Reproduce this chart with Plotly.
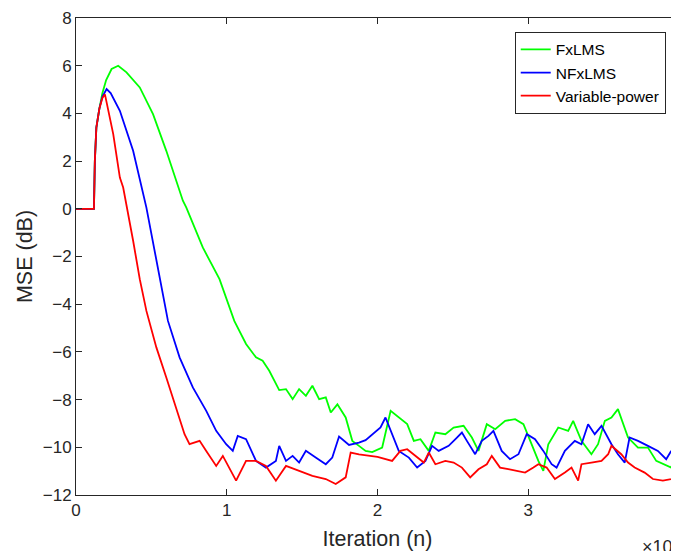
import plotly.graph_objects as go
import numpy as np

# Iteration numbers (plotted in units of 10^3) and MSE in dB
fx_iter = [0, 119, 125, 135, 155, 175, 200, 236, 280, 310, 335, 423, 511, 599, 709, 732, 841, 952,
           1050, 1128, 1172, 1194, 1238, 1282, 1348, 1393, 1437, 1480, 1525, 1568, 1613, 1657, 1690,
           1734, 1789, 1833, 1877, 1921, 1965, 2031, 2087, 2141, 2197, 2241, 2285, 2340, 2384, 2450,
           2505, 2571, 2626, 2670, 2725, 2781, 2847, 2913, 2968, 3022, 3067, 3100, 3133, 3199, 3265,
           3298, 3353, 3419, 3463, 3508, 3552, 3595, 3662, 3728, 3794, 3849, 3904, 3948, 3980, 4000]
fx_mse = [0, 0, 2.0, 3.4, 4.2, 4.85, 5.4, 5.86, 6.0, 5.85, 5.72, 5.09, 3.97, 2.43, 0.34, 0.05, -1.62,
          -2.95, -4.7, -5.67, -6.02, -6.23, -6.37, -6.79, -7.6, -7.56, -7.98, -7.56, -7.84, -7.42,
          -7.98, -7.91, -8.54, -8.2, -8.75, -9.73, -9.94, -10.15, -10.2, -10.01, -8.47, -8.75, -9.03,
          -9.73, -9.66, -10.15, -9.38, -9.45, -9.17, -9.1, -9.59, -10.15, -9.03, -9.24, -8.89, -8.82,
          -9.03, -9.87, -10.57, -10.99, -9.87, -9.17, -9.31, -8.89, -9.73, -10.29, -9.87, -8.89,
          -8.75, -8.4, -9.59, -10.01, -10.01, -10.57, -10.71, -10.85, -10.29, -10.4]

nfx_iter = [0, 119, 125, 135, 155, 175, 203, 230, 291, 379, 467, 555, 610, 687, 775, 864, 930, 996,
            1040, 1073, 1128, 1194, 1260, 1326, 1348, 1393, 1437, 1480, 1525, 1590, 1657, 1700, 1745,
            1811, 1877, 1921, 1965, 2020, 2053, 2097, 2141, 2208, 2263, 2318, 2362, 2406, 2472, 2527,
            2560, 2593, 2648, 2692, 2736, 2769, 2824, 2879, 2935, 2990, 3045, 3100, 3155, 3188, 3243,
            3309, 3353, 3397, 3441, 3486, 3552, 3595, 3640, 3672, 3728, 3794, 3860, 3915, 3948, 3980,
            4000]
nfx_mse = [0, 0, 2.0, 3.4, 4.2, 4.7, 5.02, 4.85, 4.11, 2.43, 0.05, -2.95, -4.7, -6.23, -7.49, -8.47,
           -9.31, -9.87, -10.15, -9.52, -9.66, -10.57, -10.85, -10.57, -9.94, -10.57, -10.36, -10.64,
           -10.15, -10.43, -10.71, -10.43, -9.55, -9.9, -9.8, -9.7, -9.45, -9.17, -8.75, -9.45,
           -10.15, -10.43, -10.85, -10.57, -9.94, -10.15, -9.94, -9.59, -9.38, -9.73, -10.29, -9.73,
           -9.52, -9.31, -10.15, -10.5, -10.29, -9.45, -9.66, -10.15, -10.71, -10.85, -10.15, -9.73,
           -9.87, -9.03, -9.45, -9.1, -9.87, -10.29, -10.64, -9.59, -9.73, -9.94, -10.15, -10.5,
           -10.15, -10.64, -10.5]

vp_iter = [0, 119, 125, 135, 155, 175, 192, 247, 291, 313, 379, 423, 467, 533, 599, 665, 720, 753,
           820, 864, 930, 974, 1018, 1062, 1128, 1194, 1260, 1326, 1393, 1480, 1568, 1657, 1723, 1789,
           1822, 1877, 1943, 2000, 2097, 2152, 2197, 2252, 2307, 2340, 2384, 2450, 2505, 2560, 2615,
           2670, 2725, 2758, 2813, 2868, 2924, 2979, 3034, 3067, 3122, 3177, 3243, 3287, 3331, 3353,
           3419, 3486, 3530, 3552, 3617, 3662, 3706, 3772, 3827, 3893, 3948, 3980, 4000]
vp_mse = [0, 0, 2.0, 3.4, 4.2, 4.65, 4.8, 3.13, 1.31, 0.89, -1.34, -2.95, -4.28, -5.81, -7.07, -8.33,
          -9.45, -9.87, -9.73, -10.15, -10.78, -10.36, -10.85, -11.4, -10.57, -10.57, -10.78, -11.4,
          -10.78, -10.99, -11.2, -11.33, -11.54, -11.26, -10.22, -10.3, -10.36, -10.4, -10.57, -10.15,
          -10.08, -10.36, -10.64, -10.22, -10.71, -10.57, -10.64, -10.85, -11.26, -10.92, -10.71,
          -10.36, -10.85, -10.92, -10.99, -11.06, -10.85, -10.71, -10.85, -11.33, -11.06, -10.85,
          -11.4, -10.71, -10.64, -10.57, -10.29, -9.94, -10.29, -10.64, -10.85, -11.06, -11.33, -11.4,
          -11.33, -11.26, -11.3]

series = [
    ("FxLMS", fx_iter, fx_mse, "#00ff00"),
    ("NFxLMS", nfx_iter, nfx_mse, "#0000ff"),
    ("Variable-power", vp_iter, vp_mse, "#ff0000"),
]

x_ticks = [0, 1, 2, 3, 4]
y_ticks = [-12, -10, -8, -6, -4, -2, 0, 2, 4, 6, 8]

FONT = "Liberation Sans, Arial, Helvetica, sans-serif"
AX = "#262626"

fig = go.Figure()
for name, it, mse, col in series:
    fig.add_trace(go.Scatter(x=np.array(it) / 1000.0, y=mse, mode="lines", name=name,
                             line=dict(color=col, width=1.8)))
# empty trace that anchors the right-hand tick axis
fig.add_trace(go.Scatter(x=[0], y=[0], yaxis="y2", mode="lines", showlegend=False,
                         hoverinfo="skip", line=dict(width=0)))

# the page body adds an 8 px offset, so the figure is sized to end at the window edge
fig.update_layout(
    width=671, height=543,
    margin=dict(l=68, r=0, t=10, b=56, autoexpand=False),
    paper_bgcolor="white", plot_bgcolor="white",
    font=dict(family=FONT, color=AX, size=17),
    showlegend=True,
    legend=dict(x=0.978, y=0.971, xanchor="right", yanchor="top",
                bgcolor="white", bordercolor=AX, borderwidth=1,
                font=dict(size=15.5, color="black"), tracegroupgap=0),
    xaxis=dict(range=[0, 4], tickvals=x_ticks, ticktext=[str(v) for v in x_ticks],
               ticks="inside", ticklen=6, tickcolor=AX, showline=True, linecolor=AX,
               linewidth=1, mirror="ticks", showgrid=False, zeroline=False, automargin=False,
               ticklabeloverflow="allow",
               title=dict(text="Iteration (n)", font=dict(size=21.5), standoff=13)),
    yaxis=dict(range=[-12, 8], tickvals=y_ticks, ticks="inside", ticklen=6, tickcolor=AX,
               showline=True, linecolor=AX, linewidth=1, showgrid=False, zeroline=False,
               automargin=False,
               title=dict(text="MSE (dB)", font=dict(size=21.5), standoff=4)),
    yaxis2=dict(range=[-12, 8], tickvals=y_ticks, overlaying="y", side="right",
                ticks="inside", ticklen=6, tickcolor=AX, showline=False, automargin=False,
                showticklabels=False, showgrid=False, zeroline=False),
    annotations=[dict(text="×10<sup>3</sup>", xref="paper", yref="paper", x=0.935, y=-0.078,
                      xanchor="left", yanchor="top", showarrow=False,
                      font=dict(size=18, color=AX))],
)

fig.write_html("out.html")
